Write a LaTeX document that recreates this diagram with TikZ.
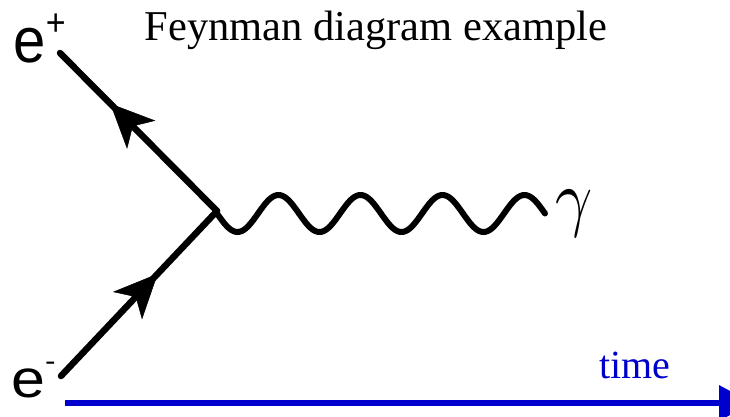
\documentclass[tikz,border=0pt]{standalone}
\usepackage{fontspec}
\setmainfont{Liberation Serif}
\newfontfamily\arialf{Liberation Sans}
\usetikzlibrary{arrows.meta,decorations.markings}
\definecolor{timeblue}{RGB}{0,0,204}
\tikzset{
  fermion/.style={line width=6.5pt, line cap=round},
  fermarrow/.style={postaction={decorate, decoration={markings,
      mark=at position #1 with {\arrow{Stealth[length=44pt,width=40pt,inset=12pt,line width=0.5pt]}}}}},
  photon/.style={line width=6pt, line cap=round},
  serifbig/.style={font=\fontsize{42.5}{50}\selectfont, inner sep=0pt, anchor=base west},
  particle/.style={inner sep=0pt, anchor=base west},
  timeaxis/.style={timeblue, line width=6.5pt, -{Triangle[length=34pt,width=34pt]}}
}
\begin{document}
\begin{tikzpicture}[x=1pt,y=-1pt]
\useasboundingbox (0,0) rectangle (730,416);
% key points
\coordinate (v) at (217,211);
\coordinate (ep) at (60,53);
\coordinate (em) at (61,376);
\coordinate (t0) at (65,403);
\coordinate (t1) at (753,403);
% title
\node[serifbig] (title) at (144.5,40) {Feynman diagram example};
% fermion lines
\draw[fermion, fermarrow=0.68] (v) -- (ep);
\draw[fermion, fermarrow=0.62] (em) -- (v);
% photon
\draw[photon] plot[domain=0:328, samples=240, smooth] ({217+\x}, {213.5+18.5*sin(\x/82*360)});
% labels
\node[particle, yscale=1.1] (lep) at (13.5,62) {\arialf\fontsize{58}{60}\selectfont e\raisebox{0.42em}{\fontsize{34}{34}\selectfont +}};
\node[particle, yscale=0.92, xscale=1.05] (lem) at (11,397) {\arialf\fontsize{58}{60}\selectfont e\raisebox{0.5em}{\fontsize{30}{30}\selectfont -}};
\node[particle, font=\fontsize{10}{12}\selectfont, xscale=6.5, yscale=7.5, anchor=center] (gam) at (574,214) {$\gamma$};
\node[particle, font=\fontsize{40}{42}\selectfont, text=timeblue] (time) at (599,378) {time};
% time axis
\draw[timeaxis] (t0) -- (t1);
\end{tikzpicture}
\end{document}
